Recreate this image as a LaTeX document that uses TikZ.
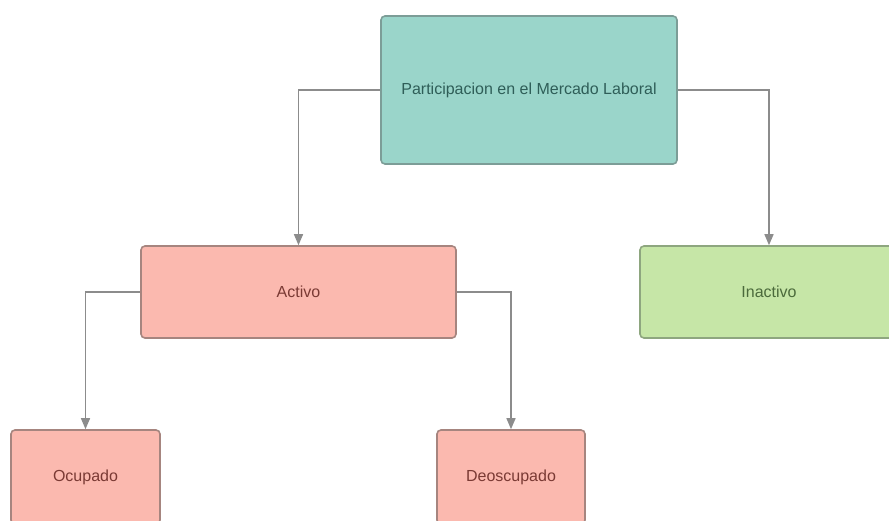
\documentclass[tikz,border=0pt]{standalone}
\usepackage{fontspec}
\setmainfont{Liberation Sans}
\usetikzlibrary{arrows.meta,positioning}
\definecolor{tealfill}{HTML}{9AD5CA}
\definecolor{tealline}{HTML}{7C9D97}
\definecolor{tealtext}{HTML}{2F5E58}
\definecolor{redfill}{HTML}{FBB9AF}
\definecolor{redline}{HTML}{A6857F}
\definecolor{redtext}{HTML}{7A3A34}
\definecolor{greenfill}{HTML}{C6E6A7}
\definecolor{greenline}{HTML}{8EA67F}
\definecolor{greentext}{HTML}{4B6A3B}
\definecolor{linkgray}{HTML}{8C8C8C}
\tikzset{%
	block/.style      = {draw, rectangle, rounded corners=4pt, line width=1.6pt, inner sep=0pt, font=\fontsize{16}{19}\selectfont}, % Box
	rootblock/.style  = {block, fill=tealfill, draw=tealline, text=tealtext}, % Top
	activeblock/.style = {block, fill=redfill, draw=redline, text=redtext}, % Active
	idleblock/.style  = {block, fill=greenfill, draw=greenline, text=greentext}, % Inactive
	link/.style       = {draw=linkgray, line width=1.4pt, -{Triangle[width=9pt,length=11pt]}}, % Connector
}

\begin{document}
\begin{tikzpicture}[x=1pt, y=-1pt]
		\useasboundingbox[fill=white] (0,0) rectangle (889,520);
		\node[rootblock, minimum width=296pt, minimum height=148pt] (lab) at (529,90) {Participacion en el Mercado Laboral};
		\node[activeblock, minimum width=315pt, minimum height=92pt] (act) at (298.5,292) {Activo};
		\node[idleblock, minimum width=258pt, minimum height=92pt] (inact) at (769,292) {Inactivo};
		\node[activeblock, minimum width=149pt, minimum height=94pt] (ocu) at (85.5,477) {Ocupado};
		\node[activeblock, minimum width=148pt, minimum height=94pt] (deso) at (511,477) {Deoscupado};
		\draw[link] (lab.west) -| (act.north);
		\draw[link] (lab.east) -| (inact.north);
		\draw[link] (act.west) -| (ocu.north);
		\draw[link] (act.east) -| (deso.north);
		\end{tikzpicture}
\end{document}
